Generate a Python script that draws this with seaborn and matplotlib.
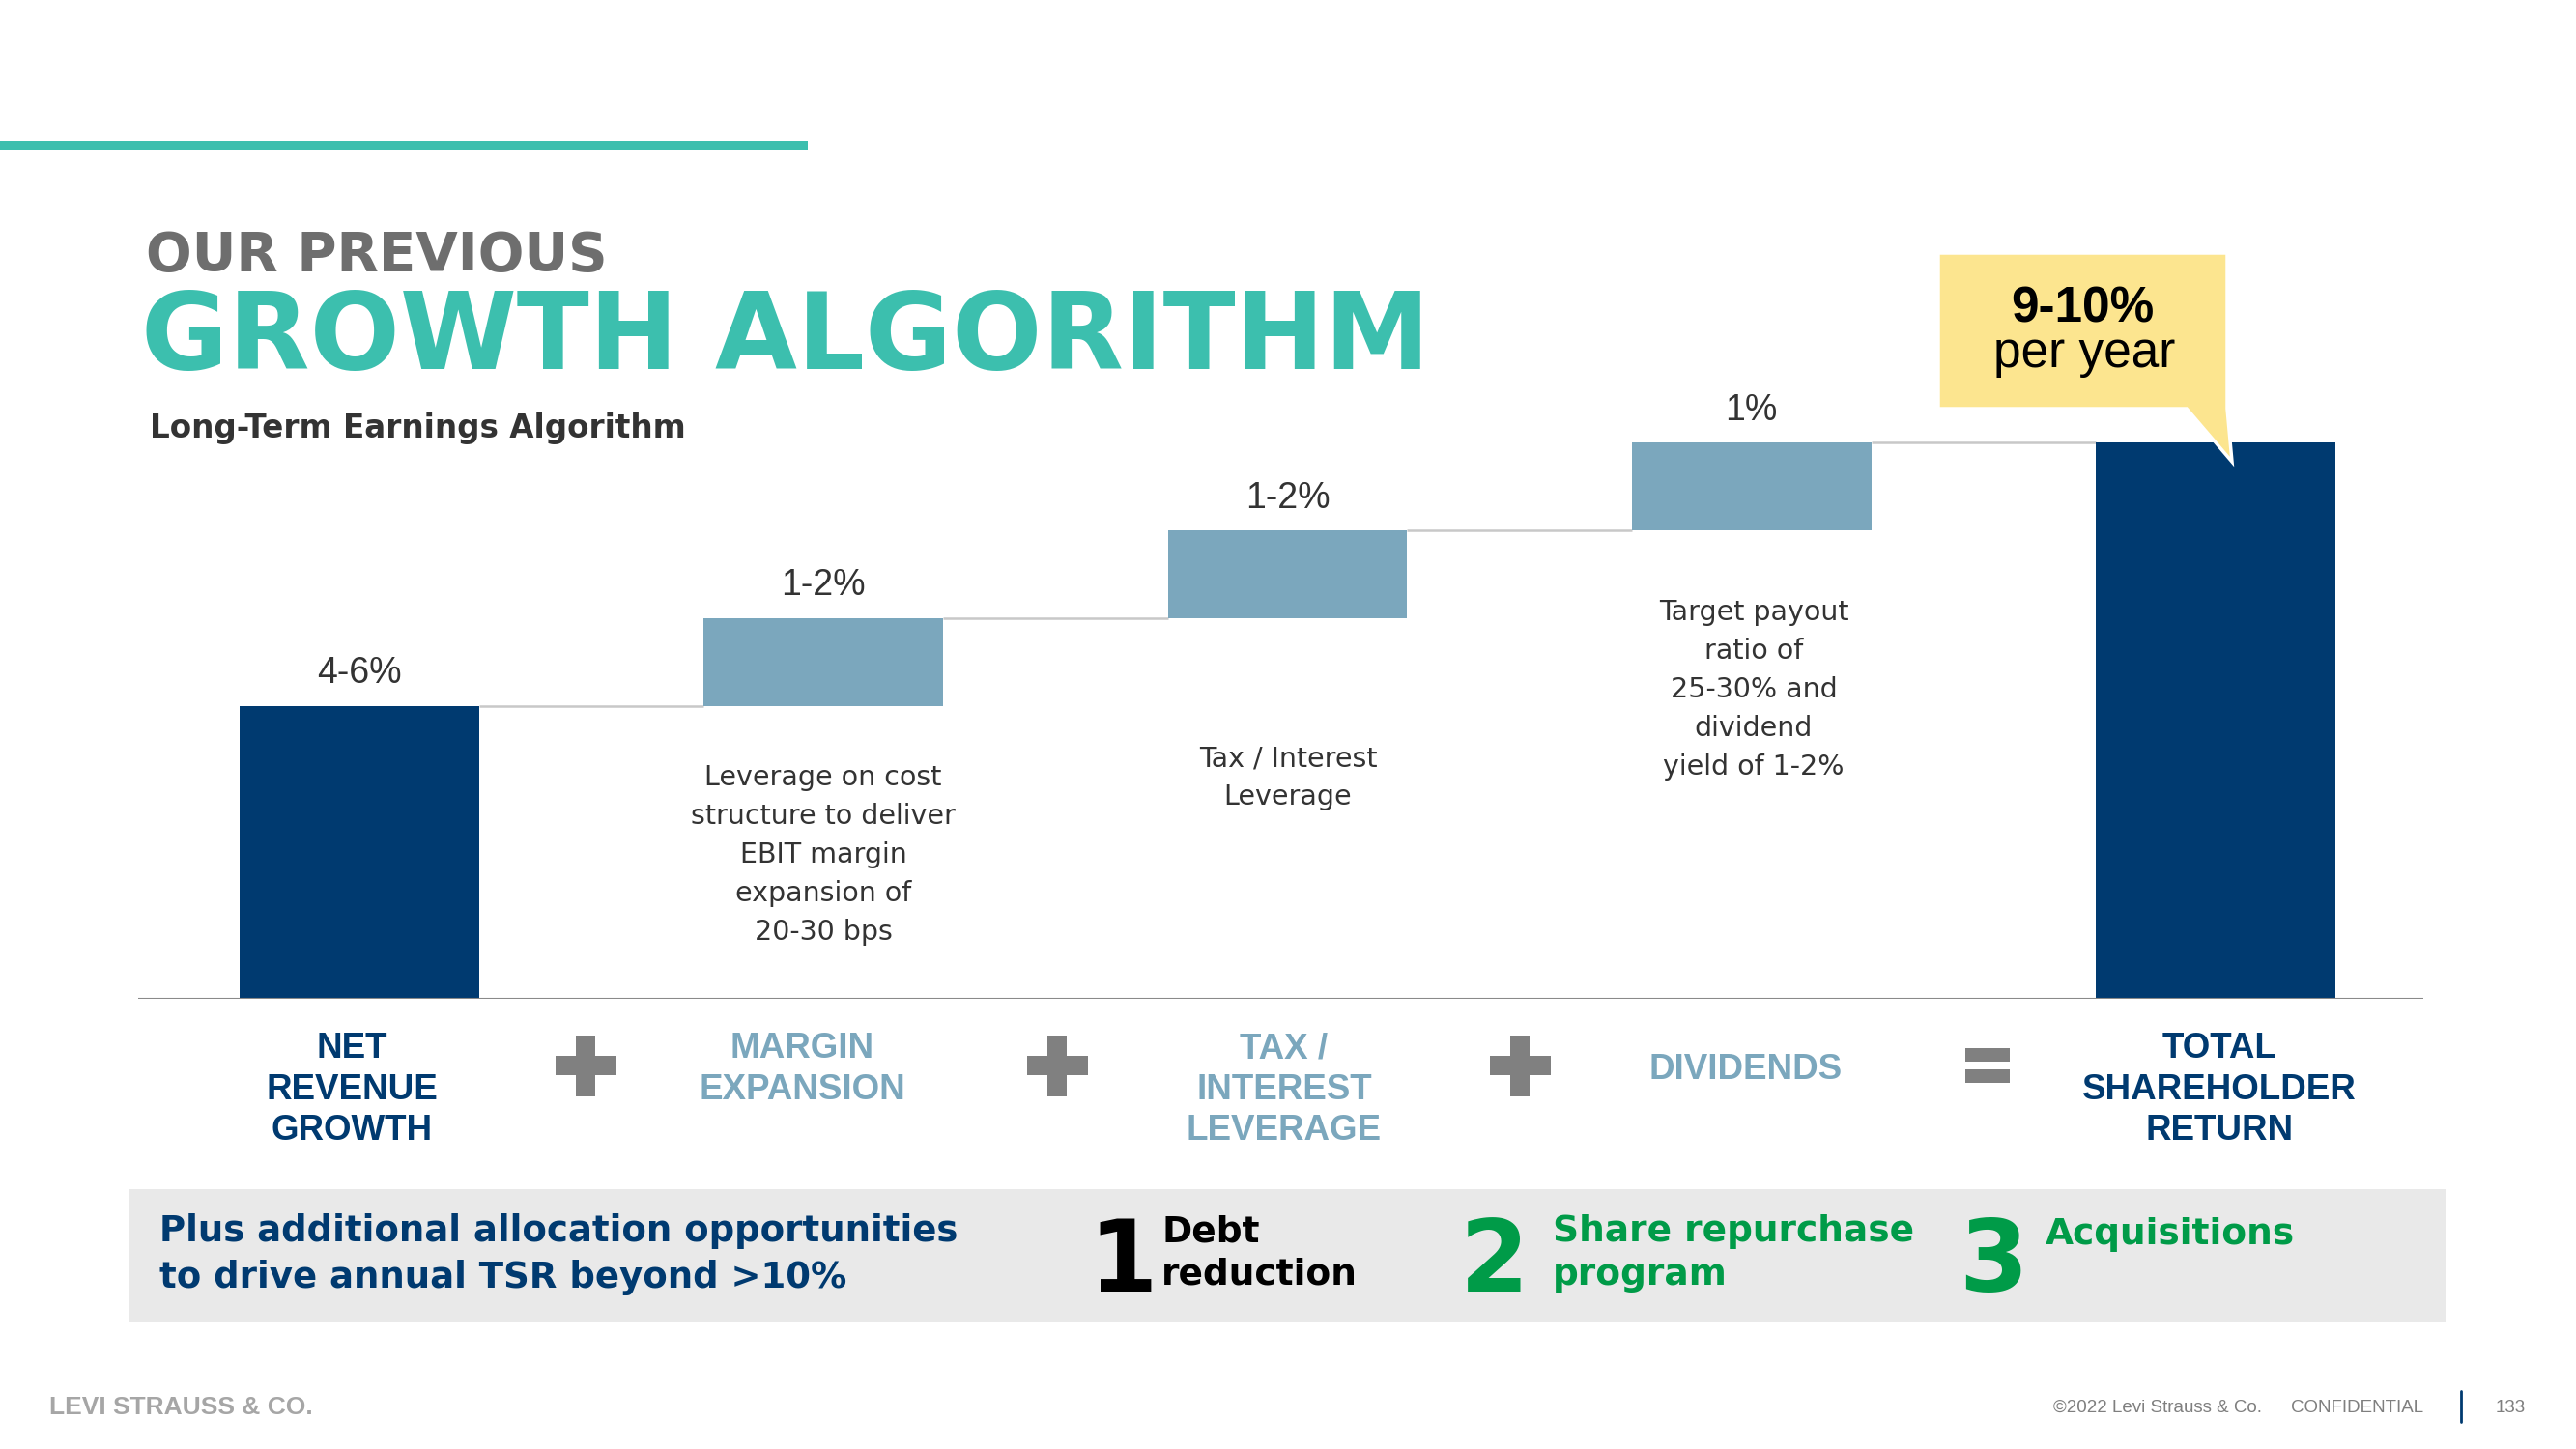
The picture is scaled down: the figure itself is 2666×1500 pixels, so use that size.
import matplotlib
matplotlib.use("Agg")
import matplotlib.pyplot as plt
import matplotlib.transforms as mtransforms
from matplotlib.patches import Rectangle, Polygon
from matplotlib.lines import Line2D
import seaborn as sns
import pandas as pd

# ---------------- data ----------------
stages = ["Net Revenue Growth", "Margin Expansion", "Tax / Interest Leverage",
          "Dividends", "Total Shareholder Return"]
step_values = [5.0, 1.5, 1.5, 1.5, 9.5]
is_total = [True, False, False, False, True]
value_labels = ["4-6%", "1-2%", "1-2%", "1%", ""]
stage_labels = ["NET\nREVENUE\nGROWTH", "MARGIN\nEXPANSION", "TAX /\nINTEREST\nLEVERAGE",
                "DIVIDENDS", "TOTAL\nSHAREHOLDER\nRETURN"]
descriptions = ["",
                "Leverage on cost\nstructure to deliver\nEBIT margin\nexpansion of\n20-30 bps",
                "Tax / Interest\nLeverage",
                "Target payout\nratio of\n25-30% and\ndividend\nyield of 1-2%",
                ""]
callout_value = "9-10%"
callout_unit = "per year"
extras = ["Debt\nreduction", "Share repurchase\nprogram", "Acquisitions"]

# ---------------- style ----------------
NAVY = "#003A70"
STEEL = "#7BA7BD"
TEAL = "#3CBFAE"
GREEN = "#009B48"
YELLOW = "#FCE58F"
TXT = "#333333"
bar_colors = [NAVY if t else STEEL for t in is_total]
label_colors = [NAVY if t else STEEL for t in is_total]

sns.set_theme(style="white")
plt.rcParams["font.family"] = ["Liberation Sans", "DejaVu Sans"]
WIDE = ["DejaVu Sans"]

W, H = 2666, 1500
fig = plt.figure(figsize=(W / 100, H / 100), dpi=100)
fig.patch.set_facecolor("white")
# transform in reference pixel coordinates (origin top-left)
px = mtransforms.Affine2D().scale(1 / W, -1 / H).translate(0, 1) + fig.transFigure


def lines(x, y0, text, dy, **kw):
    for j, ln in enumerate(text.split("\n")):
        fig.text(x, y0 + j * dy, ln, transform=px, va="baseline", **kw)


# ---------------- bars ----------------
base_px, x_left_px, x_right_px = 1034, 143, 2508
c0_px, step_px = 372, 480.25
unit_px = 60.6
ax = fig.add_axes([x_left_px / W, (H - base_px) / H, (x_right_px - x_left_px) / W, base_px / H])
ax.set_facecolor("none")

bases = []
running = 0.0
for v, t in zip(step_values, is_total):
    if t:
        bases.append(0.0)
        running = v
    else:
        bases.append(running)
        running += v
tops = [b + v for b, v in zip(bases, step_values)]

df = pd.DataFrame({"stage": stages, "value": step_values})
bw = 0.516
sns.barplot(data=df, x="stage", y="value", hue="stage", palette=bar_colors,
            order=stages, hue_order=stages, width=bw, saturation=1,
            legend=False, ax=ax, zorder=2)
for p, b in zip(sorted(ax.patches, key=lambda r: r.get_x()), bases):
    p.set_y(b)
    p.set_linewidth(0)

ax.set_xlim((x_left_px - c0_px) / step_px, (x_right_px - c0_px) / step_px)
ax.set_ylim(0, base_px / unit_px)
for s in ax.spines.values():
    s.set_visible(False)
ax.set_xticks([])
ax.set_yticks([])
ax.set_xlabel("")
ax.set_ylabel("")

# connectors
for i in range(len(stages) - 1):
    ax.hlines(tops[i], i + bw / 2, i + 1 - bw / 2, color="#c8c8c8", lw=1.8, zorder=1)
ax.axhline(0, color="#8a8a8a", lw=1.5, zorder=3)

# value labels
for i, lbl in enumerate(value_labels):
    if lbl:
        ax.annotate(lbl, (i, tops[i]), xytext=(0, 17), textcoords="offset points",
                    ha="center", va="baseline", fontsize=27, color=TXT)

# descriptions
desc_pos = [None, (852, 813), (1333, 793), (1815, 642), None]
for d, pos in zip(descriptions, desc_pos):
    if d and pos:
        lines(pos[0], pos[1], d, 40, ha="center", fontsize=20.5, color=TXT, family=WIDE)

# category labels
lab_pos = [(364, 1095), (830, 1095), (1329, 1095), (1807, 1117), (2297, 1095)]
for lbl, col, pos in zip(stage_labels, label_colors, lab_pos):
    lines(pos[0], pos[1], lbl, 42.5, ha="center", fontsize=26.5, fontweight="bold", color=col)

# plus / equals operators
for cx in [606, 1094, 1573]:
    fig.add_artist(Rectangle((cx - 31, 1103 - 10), 63, 20, transform=px, color="#808080", lw=0))
    fig.add_artist(Rectangle((cx - 10, 1103 - 31), 20, 63, transform=px, color="#808080", lw=0))
fig.add_artist(Rectangle((2034, 1085), 46, 14, transform=px, color="#808080", lw=0))
fig.add_artist(Rectangle((2034, 1107), 46, 14, transform=px, color="#808080", lw=0))

# ---------------- titles ----------------
fig.add_artist(Rectangle((0, 146), 836, 9, transform=px, color=TEAL, lw=0))
fig.text(151, 280, "OUR PREVIOUS", transform=px, ha="left", va="baseline",
         fontsize=40.5, fontweight="bold", family=WIDE, color="#6e6e6e")
fig.text(146, 382, "GROWTH ALGORITHM", transform=px, ha="left", va="baseline",
         fontsize=79, fontweight="bold", family=WIDE, color=TEAL)
fig.text(155, 453, "Long-Term Earnings Algorithm", transform=px, ha="left", va="baseline",
         fontsize=23.5, fontweight="bold", family=WIDE, color=TXT)

# ---------------- callout ----------------
fig.add_artist(Polygon([(2006, 262), (2305, 262), (2305, 423), (2310, 478), (2263, 423), (2006, 423)],
                       closed=True, transform=px, facecolor=YELLOW, edgecolor="white", lw=2.5, zorder=5))
fig.text(2155, 333, callout_value, transform=px, ha="center", va="baseline",
         fontsize=37, fontweight="bold", color="black", zorder=6)
fig.text(2157, 380, callout_unit, transform=px, ha="center", va="baseline",
         fontsize=37, color="black", zorder=6)

# ---------------- bottom box ----------------
fig.add_artist(Rectangle((134, 1231), 2397, 138, transform=px, color="#E9E9E9", lw=0, zorder=0))
lines(165, 1285, "Plus additional allocation opportunities\nto drive annual TSR beyond >10%", 48,
      ha="left", fontsize=26.7, fontweight="bold", family=WIDE, color=NAVY)

num_x = [1126, 1511, 2027]
txt_x = [1202, 1607, 2117]
num_col = ["black", GREEN, GREEN]
for k, (nx, tx, col, e) in enumerate(zip(num_x, txt_x, num_col, extras)):
    fig.text(nx, 1337, str(k + 1), transform=px, ha="left", va="baseline",
             fontsize=74, fontweight="bold", family=WIDE, color=col)
    y0 = 1285 if "\n" in e else 1288
    lines(tx, y0, e, 45, ha="left", fontsize=27, fontweight="bold", family=WIDE, color=col)

# ---------------- footer ----------------
fig.text(51, 1464, "LEVI STRAUSS & CO.", transform=px, ha="left", va="baseline",
         fontsize=19, fontweight="bold", color="#a6a6a6")
fig.text(2125, 1462, "\u00a92022 Levi Strauss & Co.", transform=px, ha="left", va="baseline",
         fontsize=13.5, color="#7f7f7f")
fig.text(2371, 1462, "CONFIDENTIAL", transform=px, ha="left", va="baseline",
         fontsize=13.5, color="#7f7f7f")
fig.add_artist(Line2D([2547, 2547], [1440, 1472], transform=px, color=NAVY, lw=2))
fig.text(2598, 1462, "133", transform=px, ha="center", va="baseline",
         fontsize=13.5, color="#7f7f7f")

fig.savefig("out.png", dpi=100, facecolor="white")
